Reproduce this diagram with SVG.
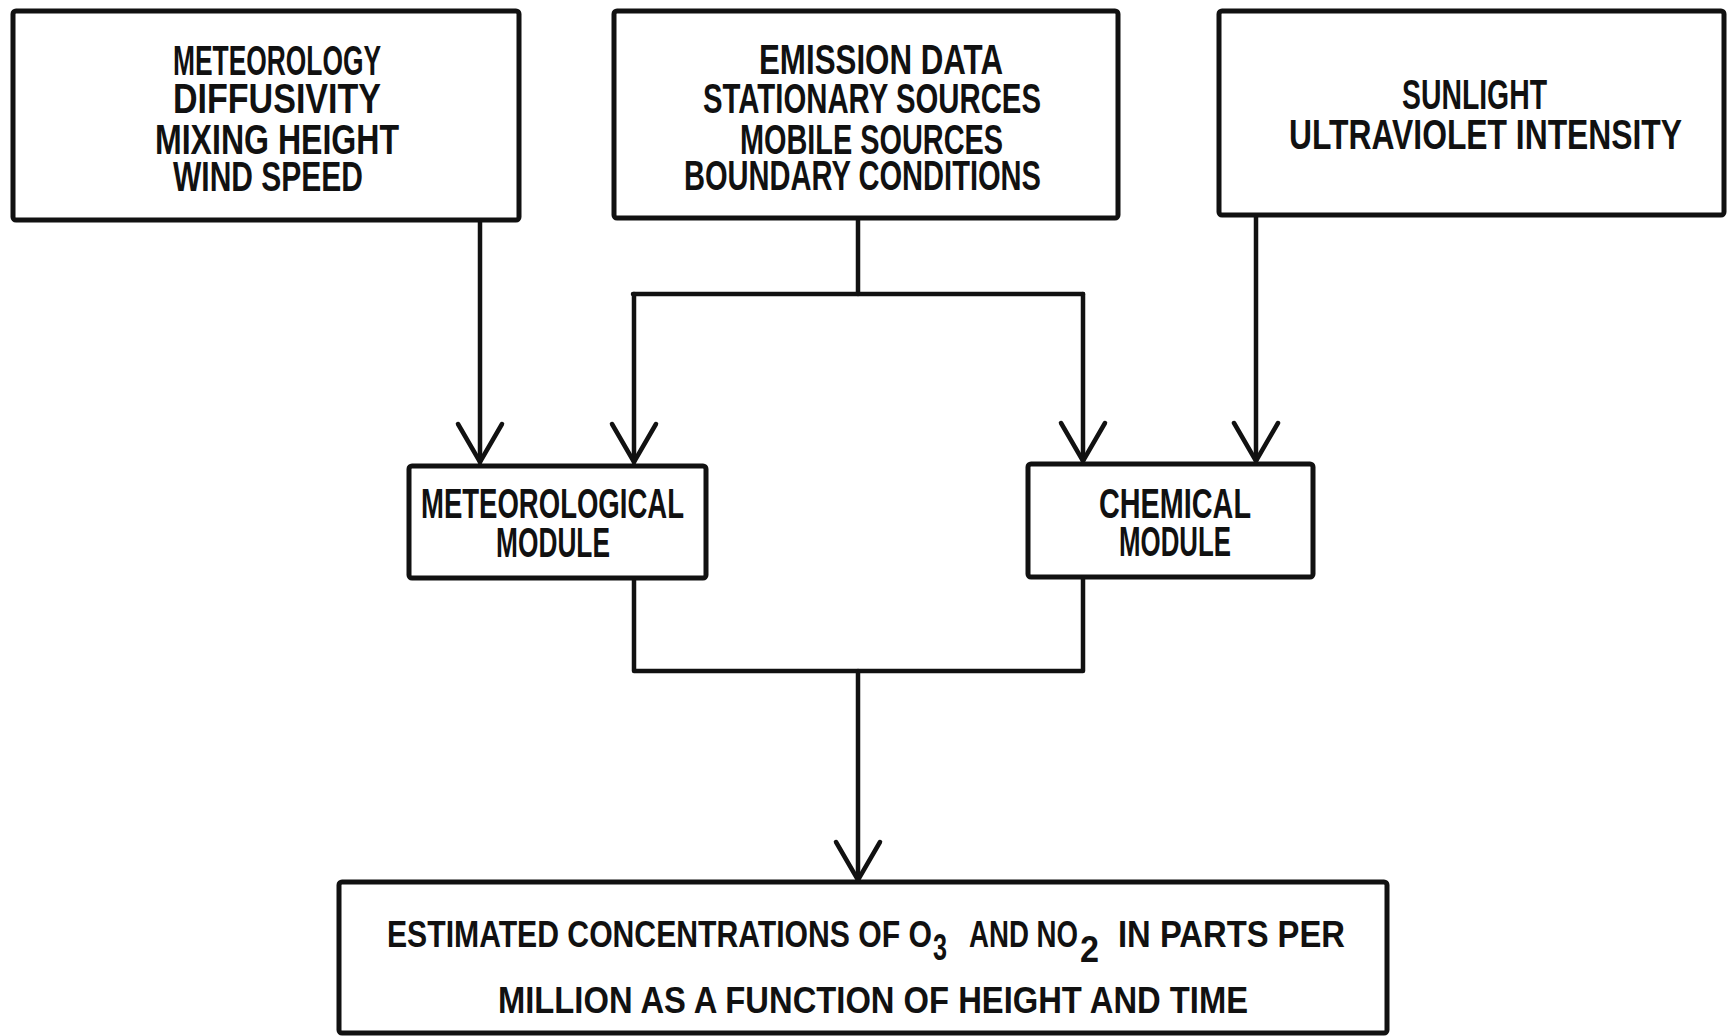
<svg xmlns="http://www.w3.org/2000/svg" width="1727" height="1036" viewBox="0 0 1727 1036">
<style>
.box{fill:#fff;stroke:#111;stroke-width:5;}
.t{font-family:"Liberation Sans",Arial,sans-serif;font-size:42px;fill:#111;font-weight:bold;}
.s{font-size:37px;}
.c{fill:none;stroke:#111;stroke-width:4.5;stroke-linejoin:round;stroke-linecap:round;}
</style>
<defs>
<marker id="v" markerUnits="userSpaceOnUse" viewBox="-44 -28 50 56" markerWidth="50" markerHeight="56" refX="0" refY="0" orient="auto" overflow="visible">
<path d="M-38,-22 L0,0 L-38,22" fill="none" stroke="#111" stroke-width="4.5" stroke-linecap="round" stroke-linejoin="miter"/>
</marker>
</defs>
<rect width="1727" height="1036" fill="#fff"/>
<g id="connectors">
<path class="c" d="M480,220 L480,462" marker-end="url(#v)"/>
<path class="c" d="M858,218 L858,294"/>
<path class="c" d="M633,294 L1083,294"/>
<path class="c" d="M634,294 L634,462" marker-end="url(#v)"/>
<path class="c" d="M1083,294 L1083,461" marker-end="url(#v)"/>
<path class="c" d="M1256,215 L1256,461" marker-end="url(#v)"/>
<path class="c" d="M634,578 L634,671 L1083,671 L1083,577"/>
<path class="c" d="M858,671 L858,880" marker-end="url(#v)"/>
</g>
<g id="meteorology">
<rect class="box" x="13" y="11" width="506" height="209" rx="3"/>
<text class="t" x="173" y="75" textLength="208" lengthAdjust="spacingAndGlyphs">METEOROLOGY</text>
<text class="t" x="173" y="113" textLength="208" lengthAdjust="spacingAndGlyphs">DIFFUSIVITY</text>
<text class="t" x="155" y="154" textLength="244" lengthAdjust="spacingAndGlyphs">MIXING HEIGHT</text>
<text class="t" x="173" y="191" textLength="190" lengthAdjust="spacingAndGlyphs">WIND SPEED</text>
</g>
<g id="emission">
<rect class="box" x="614" y="11" width="504" height="207" rx="3"/>
<text class="t" x="759" y="74" textLength="244" lengthAdjust="spacingAndGlyphs">EMISSION DATA</text>
<text class="t" x="703" y="113" textLength="338" lengthAdjust="spacingAndGlyphs">STATIONARY SOURCES</text>
<text class="t" x="740" y="154" textLength="263" lengthAdjust="spacingAndGlyphs">MOBILE SOURCES</text>
<text class="t" x="684" y="190" textLength="357" lengthAdjust="spacingAndGlyphs">BOUNDARY CONDITIONS</text>
</g>
<g id="sunlight">
<rect class="box" x="1219" y="11" width="505" height="204" rx="3"/>
<text class="t" x="1402" y="109" textLength="145" lengthAdjust="spacingAndGlyphs">SUNLIGHT</text>
<text class="t" x="1289" y="149" textLength="393" lengthAdjust="spacingAndGlyphs">ULTRAVIOLET INTENSITY</text>
</g>
<g id="met-module">
<rect class="box" x="409" y="466" width="297" height="112" rx="3"/>
<text class="t" x="421" y="518" textLength="263" lengthAdjust="spacingAndGlyphs">METEOROLOGICAL</text>
<text class="t" x="496" y="557" textLength="114" lengthAdjust="spacingAndGlyphs">MODULE</text>
</g>
<g id="chem-module">
<rect class="box" x="1028" y="464" width="285" height="113" rx="3"/>
<text class="t" x="1099" y="518" textLength="152" lengthAdjust="spacingAndGlyphs">CHEMICAL</text>
<text class="t" x="1119" y="556" textLength="112" lengthAdjust="spacingAndGlyphs">MODULE</text>
</g>
<g id="output">
<rect class="box" x="339" y="882" width="1048" height="151" rx="3"/>
<text class="t s" x="387" y="947" textLength="545" lengthAdjust="spacingAndGlyphs">ESTIMATED CONCENTRATIONS OF O</text>
<text class="t s" x="933" y="960" textLength="14" lengthAdjust="spacingAndGlyphs">3</text>
<text class="t s" x="969" y="947" textLength="109" lengthAdjust="spacingAndGlyphs">AND NO</text>
<text class="t s" x="1080" y="962" textLength="19" lengthAdjust="spacingAndGlyphs">2</text>
<text class="t s" x="1118" y="947" textLength="227" lengthAdjust="spacingAndGlyphs">IN PARTS PER</text>
<text class="t s" x="498" y="1013" textLength="750" lengthAdjust="spacingAndGlyphs">MILLION AS A FUNCTION OF HEIGHT AND TIME</text>
</g>
</svg>
